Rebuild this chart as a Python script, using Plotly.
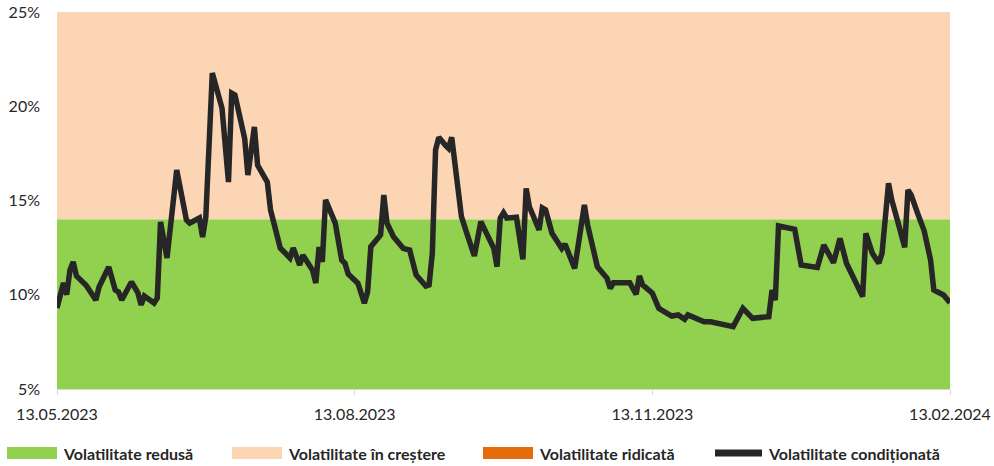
import plotly.graph_objects as go

dates = [
    "2023-05-13", "2023-05-15", "2023-05-16", "2023-05-17", "2023-05-18", "2023-05-19",
    "2023-05-22", "2023-05-24", "2023-05-25", "2023-05-26", "2023-05-29", "2023-05-31",
    "2023-06-01", "2023-06-02", "2023-06-05", "2023-06-07", "2023-06-08", "2023-06-09",
    "2023-06-12", "2023-06-13", "2023-06-14", "2023-06-16", "2023-06-19", "2023-06-22",
    "2023-06-23", "2023-06-26", "2023-06-27", "2023-06-28", "2023-06-30", "2023-07-03",
    "2023-07-05", "2023-07-06", "2023-07-07", "2023-07-10", "2023-07-11", "2023-07-13",
    "2023-07-14", "2023-07-17", "2023-07-18", "2023-07-21", "2023-07-24", "2023-07-25",
    "2023-07-27", "2023-07-28", "2023-07-31", "2023-08-01", "2023-08-02", "2023-08-03",
    "2023-08-04", "2023-08-07", "2023-08-09", "2023-08-10", "2023-08-11", "2023-08-14",
    "2023-08-16", "2023-08-17", "2023-08-18", "2023-08-21", "2023-08-22", "2023-08-23",
    "2023-08-25", "2023-08-28", "2023-08-30", "2023-09-01", "2023-09-04", "2023-09-05",
    "2023-09-06", "2023-09-07", "2023-09-08", "2023-09-10", "2023-09-11", "2023-09-12",
    "2023-09-13", "2023-09-15", "2023-09-17", "2023-09-19", "2023-09-21", "2023-09-23",
    "2023-09-25", "2023-09-26", "2023-09-27", "2023-09-28", "2023-09-29", "2023-10-02",
    "2023-10-04", "2023-10-05", "2023-10-06", "2023-10-09", "2023-10-10", "2023-10-11",
    "2023-10-13", "2023-10-16", "2023-10-17", "2023-10-20", "2023-10-23", "2023-10-24",
    "2023-10-27", "2023-10-30", "2023-10-31", "2023-11-01", "2023-11-06", "2023-11-08",
    "2023-11-09", "2023-11-10", "2023-11-13", "2023-11-15", "2023-11-17", "2023-11-19",
    "2023-11-21", "2023-11-23", "2023-11-24", "2023-11-28", "2023-11-29", "2023-12-01",
    "2023-12-04", "2023-12-07", "2023-12-08", "2023-12-11", "2023-12-14", "2023-12-19",
    "2023-12-20", "2023-12-21", "2023-12-22", "2023-12-27", "2023-12-29", "2024-01-03",
    "2024-01-05", "2024-01-08", "2024-01-10", "2024-01-12", "2024-01-14", "2024-01-17",
    "2024-01-18", "2024-01-20", "2024-01-22", "2024-01-23", "2024-01-25", "2024-01-26",
    "2024-01-28", "2024-01-30", "2024-01-31", "2024-02-01", "2024-02-03", "2024-02-05",
    "2024-02-07", "2024-02-08", "2024-02-11", "2024-02-13",
]

volatility = [
    9.30, 10.62, 10.00, 11.30, 11.74, 11.00,
    10.50, 9.88, 9.72, 10.41, 11.47, 10.25,
    10.15, 9.72, 10.68, 10.10, 9.46, 9.93,
    9.56, 9.83, 13.86, 11.95, 16.62, 13.97,
    13.80, 14.07, 13.06, 14.13, 21.76, 19.90,
    15.98, 20.70, 20.60, 18.30, 16.35, 18.90,
    16.88, 15.98, 14.50, 12.48, 11.95, 12.48,
    11.58, 12.10, 11.30, 10.62, 12.53, 11.74,
    15.03, 13.80, 11.84, 11.67, 11.10, 10.61,
    9.55, 10.16, 12.55, 13.17, 15.29, 13.79,
    13.08, 12.46, 12.37, 11.05, 10.46, 10.52,
    12.20, 17.68, 18.35, 17.94, 17.77, 18.35,
    16.79, 14.14, 13.08, 12.06, 13.88, 13.17,
    12.46, 11.49, 14.07, 14.35, 14.07, 14.11,
    11.88, 15.64, 14.67, 13.44, 14.60, 14.50,
    13.26, 12.46, 12.69, 11.40, 14.76, 13.70,
    11.49, 10.87, 10.34, 10.64, 10.64, 10.02,
    11.00, 10.52, 10.08, 9.28, 9.05, 8.87,
    8.93, 8.70, 8.93, 8.70, 8.57, 8.57,
    8.45, 8.40, 8.31, 9.28, 8.75, 8.84,
    10.25, 9.72, 13.65, 13.47, 11.58, 11.45,
    12.64, 11.70, 12.99, 11.67, 11.00, 9.90,
    13.26, 12.20, 11.67, 12.20, 15.91, 15.03,
    13.79, 12.52, 15.56, 15.29, 14.32, 13.40,
    11.84, 10.25, 9.99, 9.58,
]

# regime thresholds (%)
axis_min = 5
low_upper = 14
rising_upper = 25

y_ticks = [5, 10, 15, 20, 25]
y_tick_labels = ["5%", "10%", "15%", "20%", "25%"]
tick_dates = ["2023-05-13", "2023-08-13", "2023-11-13", "2024-02-13"]
tick_labels = ["13.05.2023", "13.08.2023", "13.11.2023", "13.02.2024"]

legend_names = ["Volatilitate redusă", "Volatilitate în creștere",
                "Volatilitate ridicată", "Volatilitate condiționată"]

GREEN = "#92D050"
PEACH = "#FCD5B5"
ORANGE = "#E46C0A"
LINE = "#262626"
FONT = "Lato"

fig = go.Figure()

fig.add_trace(go.Scatter(
    x=dates, y=volatility, mode="lines",
    line=dict(color=LINE, width=5.5),
    name=legend_names[3], showlegend=False, hoverinfo="x+y",
))

shapes = [
    dict(type="rect", xref="paper", yref="y", x0=0, x1=1, y0=axis_min, y1=low_upper,
         fillcolor=GREEN, line=dict(width=0), layer="below"),
    dict(type="rect", xref="paper", yref="y", x0=0, x1=1, y0=low_upper, y1=rising_upper,
         fillcolor=PEACH, line=dict(width=0), layer="below"),
]

# manual legend (paper coords; plot area 57..950 px wide, 12..389 px tall)
W, H = 893.0, 377.0
def px(xp):
    return (xp - 57) / W
def py(yp):
    return (389 - yp) / H

swatches = [(7, 57, GREEN), (232, 282, PEACH), (483, 533, ORANGE)]
for x0, x1, c in swatches:
    shapes.append(dict(type="rect", xref="paper", yref="paper",
                       x0=px(x0), x1=px(x1), y0=py(459), y1=py(447),
                       fillcolor=c, line=dict(width=0)))
shapes.append(dict(type="line", xref="paper", yref="paper",
                   x0=px(715), x1=px(762), y0=py(453), y1=py(453),
                   line=dict(color=LINE, width=7)))

annotations = []
text_x = [61, 286, 537, 766]
for tx, name in zip(text_x, legend_names):
    annotations.append(dict(xref="paper", yref="paper", x=px(tx), y=py(453),
                            text="<b>" + name + "</b>", showarrow=False,
                            xanchor="left", yanchor="middle",
                            font=dict(family=FONT, size=16, color="#262626")))

fig.update_layout(
    width=994, height=466,
    margin=dict(l=57, r=44, t=12, b=77, autoexpand=False),
    paper_bgcolor="white", plot_bgcolor="white",
    shapes=shapes, annotations=annotations,
    showlegend=False,
    font=dict(family=FONT, size=16, color="#262626"),
    xaxis=dict(
        type="date", range=["2023-05-13", "2024-02-13"],
        tickvals=tick_dates, ticktext=tick_labels,
        showgrid=False, zeroline=False,
        showline=True, linecolor="#D9D9D9", linewidth=1,
        ticks="outside", ticklen=5, tickcolor="#D9D9D9",
        ticklabelstandoff=6,
        tickfont=dict(family=FONT, size=16, color="#262626"),
    ),
    yaxis=dict(
        range=[axis_min, rising_upper], tickvals=y_ticks, ticktext=y_tick_labels,
        showgrid=False, zeroline=False, showline=False,
        ticks="", ticklabelstandoff=16,
        tickfont=dict(family=FONT, size=16, color="#262626"),
    ),
)

fig.write_html("out.html", config={"displayModeBar": False},
               post_script="document.body.style.margin='0';document.body.style.padding='0';")
